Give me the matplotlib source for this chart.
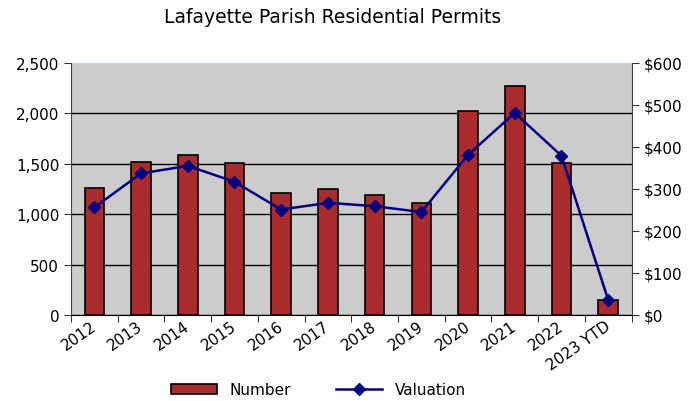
import numpy as np
import matplotlib.pyplot as plt
from matplotlib.lines import Line2D
from matplotlib.patches import Patch

years = ["2012", "2013", "2014", "2015", "2016", "2017", "2018", "2019",
         "2020", "2021", "2022", "2023 YTD"]
number = [1263, 1521, 1587, 1505, 1210, 1250, 1190, 1108, 2027, 2269, 1505, 152]
valuation = [256, 337, 355, 317, 251, 267, 259, 245, 381, 481, 379, 36]

plt.rcParams['font.family'] = ['DejaVu Sans']

fig = plt.figure(figsize=(6.92, 4.02), dpi=100)
ax = fig.add_axes([0.1026, 0.214, 0.810, 0.627])
x = np.arange(len(years))

ax.set_facecolor('#cccccc')
ax.bar(x, number, width=0.42, color='#a82c2c', edgecolor='black', linewidth=1.2, zorder=3)
ax.set_ylim(0, 2500)
ax.set_xlim(-0.5, len(years) - 0.5)
ax.set_yticks(range(0, 2501, 500))
ax.set_yticklabels([f"{v:,}" for v in range(0, 2501, 500)], fontsize=11)
ax.yaxis.grid(True, color='black', linewidth=1)
ax.get_ygridlines()[-1].set_visible(False)
ax.set_axisbelow(True)
ax.axhline(2500, color='#c6dbe6', linewidth=1.2)

# ticks between categories, labels centred under bars
ax.set_xticks(np.arange(-0.5, len(years), 1))
ax.set_xticklabels([])
ax.set_xticks(x + 0.1, minor=True)
ax.set_xticklabels(years, minor=True, rotation=35, ha='right', fontsize=11)
ax.tick_params(axis='x', which='minor', length=0, pad=2)
ax.tick_params(axis='x', which='major', length=5, direction='out', color='#333333')
ax.tick_params(axis='y', length=5, color='#333333')

for s in ['top', 'right']:
    ax.spines[s].set_visible(False)
ax.spines['left'].set_color('#444444')

ax2 = ax.twinx()
ax2.plot(x, valuation, color='#000080', marker='D', markersize=6, linewidth=1.8, zorder=4)
ax2.set_ylim(0, 600)
ax2.set_yticks(range(0, 601, 100))
ax2.set_yticklabels([f"${v}" for v in range(0, 601, 100)], fontsize=11)
ax2.tick_params(axis='y', length=5, color='#333333')
for s in ['top', 'left', 'bottom']:
    ax2.spines[s].set_visible(False)
ax2.spines['right'].set_color('#444444')

fig.suptitle("Lafayette Parish Residential Permits", fontsize=13.5, x=0.48, y=0.98)

handles = [Patch(facecolor='#a82c2c', edgecolor='black', linewidth=1.2),
           Line2D([0], [0], color='#000080', marker='D', markersize=6, linewidth=1.8)]
fig.legend(handles, ["Number", "Valuation"], loc='lower center', ncol=2,
           bbox_to_anchor=(0.46, -0.025), frameon=False, fontsize=11,
           columnspacing=3, handlelength=3)

fig.savefig("out.png")
